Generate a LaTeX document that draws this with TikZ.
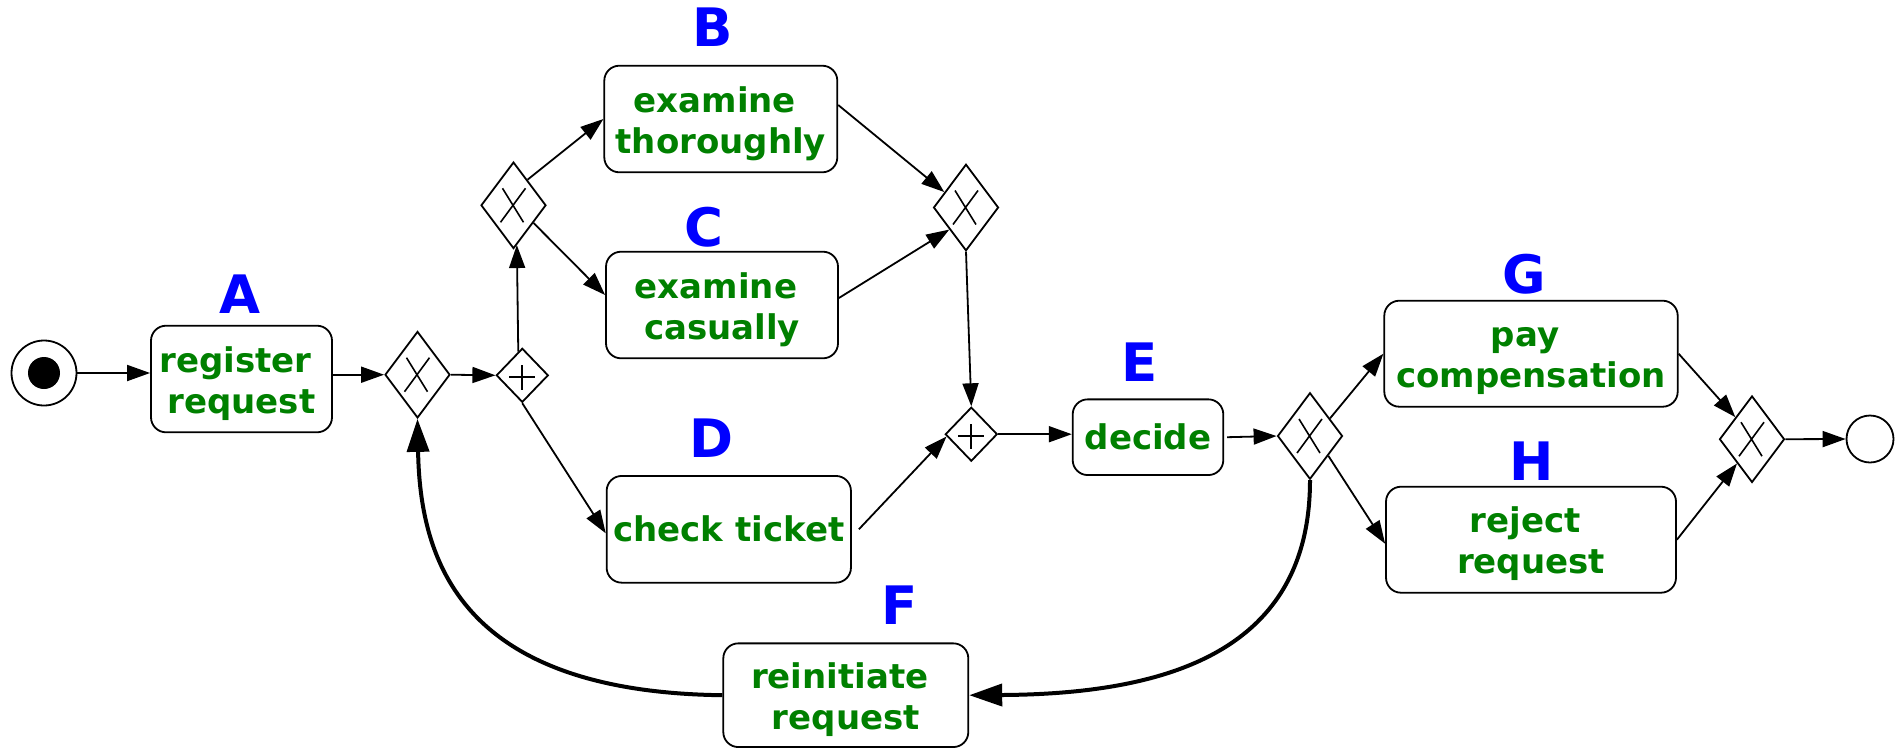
\documentclass[tikz,border=0pt]{standalone}
\usepackage{fontspec}
\setmainfont{DejaVu Sans}
\usetikzlibrary{shapes.geometric,arrows.meta,calc}
\definecolor{taskgreen}{HTML}{008000}
\definecolor{labelblue}{HTML}{0000FF}
% two centred lines whose baseline is the first line's baseline
\newcommand\twoline[2]{\vtop{\halign{\hfil##\hfil\cr#1\cr#2\cr}}}

\begin{document}
\begin{tikzpicture}[x=1pt,y=-1pt,
  task/.style={draw, line width=1.8pt, rounded corners=15pt, inner sep=0pt,
    font=\bfseries\fontsize{34}{41}\selectfont, text=taskgreen},
  twolines/.style={text height=20pt, text depth=34pt},
  letter/.style={anchor=base, inner sep=0pt,
    font=\bfseries\fontsize{53}{60}\selectfont, text=labelblue},
  xgate/.style={diamond, draw, line width=1.8pt, minimum width=65pt,
    minimum height=86.5pt, inner sep=0pt,
    path picture={\draw[line width=1.6pt]
      ($(path picture bounding box.center)+(-11,-17)$) -- ++(21,34)
      ($(path picture bounding box.center)+(-13,17)$) -- ++(25,-34);}},
  pgate/.style={diamond, draw, line width=1.8pt, minimum width=52pt,
    minimum height=54pt, inner sep=0pt,
    path picture={\draw[line width=1.8pt]
      ($(path picture bounding box.center)+(-13,2)$) -- ++(26,0)
      ($(path picture bounding box.center)+(0,-10)$) -- ++(0,25);}},
  startev/.style={circle, draw, line width=1.8pt, minimum size=65pt, inner sep=0pt,
    path picture={\fill (path picture bounding box.center) circle[radius=16pt];}},
  endev/.style={circle, draw, line width=1.8pt, minimum size=47pt, inner sep=0pt},
  flow/.style={line width=1.8pt, -{Triangle[length=23pt,width=16pt]}},
  backflow/.style={line width=4pt, -{Triangle[length=33pt,width=22pt]}},
]
\useasboundingbox (0,0) rectangle (1895,748);

% events and gateways
\node[startev] (S) at (44,373) {};
\node[xgate] (X1) at (417.5,374.7) {};
\node[pgate] (P1) at (522.3,375.3) {};
\node[xgate] (X2) at (513.5,205.3) {};
\node[xgate] (X3) at (966,207.5) {};
\node[pgate] (P2) at (971.3,434.2) {};
\node[xgate] (X4) at (1310,436) {};
\node[xgate] (X5) at (1752,439.2) {};
\node[endev] (End) at (1870,439) {};

% activities
\node[task, twolines, minimum width=181pt, minimum height=106.6pt] (A) at (241.5,379)
  {\twoline{register\kern.35em}{request}};
\node[task, twolines, minimum width=233pt, minimum height=106.6pt] (B) at (720.8,119)
  {\twoline{examine\kern.35em}{thoroughly}};
\node[task, twolines, minimum width=232pt, minimum height=106.6pt] (C) at (722,305)
  {\twoline{examine\kern.35em}{casually}};
\node[task, minimum width=244.3pt, minimum height=106.7pt] (D) at (728.8,529.3)
  {check ticket};
\node[task, minimum width=150.6pt, minimum height=75.7pt] (E) at (1148,437.2)
  {decide};
\node[task, twolines, minimum width=245pt, minimum height=103.7pt] (F) at (845.8,695.2)
  {\twoline{reinitiate\kern.35em}{request}};
\node[task, twolines, minimum width=293.4pt, minimum height=106pt] (G) at (1531,353.7)
  {\twoline{pay\kern.35em}{compensation}};
\node[task, twolines, minimum width=290pt, minimum height=106pt] (H) at (1531,539.7)
  {\twoline{reject\kern.35em}{request}};

% activity letters
\node[letter] (LA) at (240,313) {A};
\node[letter] (LB) at (712.5,46.7) {B};
\node[letter] (LC) at (704,246) {C};
\node[letter] (LD) at (711,457.3) {D};
\node[letter] (LE) at (1140,381) {E};
\node[letter] (LF) at (900,624) {F};
\node[letter] (LG) at (1524,293) {G};
\node[letter] (LH) at (1531.7,480) {H};

% sequence flows
\draw[flow] (S.east) -- (S.east -| A.west);
\draw[flow] (A.east |- X1.west) -- (X1.west);
\draw[flow] (X1.east) -- (P1.west);
\draw[flow] ($(P1.north)!0.15!(P1.west)$) -- ($(X2.south)!0.1!(X2.east)$);
\draw[flow] ($(X2.north)!0.42!(X2.east)$) -- (B.west);
\draw[flow] ($(X2.east)!0.4!(X2.south)$) -- ([yshift=10pt]C.west);
\draw[flow] (P1.south) -- ([yshift=-4pt]D.west);
\draw[flow] ([yshift=14pt]B.east) -- ($(X3.west)!0.35!(X3.north)$);
\draw[flow] ([yshift=7pt]C.east) -- ($(X3.west)!0.5!(X3.south)$);
\draw[flow] (X3.south) -- (P2.north);
\draw[flow] ([xshift=7pt]D.east) -- ($(P2.west)!0.08!(P2.south)$);
\draw[flow] (P2.east) -- (P2.east -| E.west);
\draw[flow] ([xshift=3pt]E.east) -- (X4.west);
\draw[flow] ($(X4.north)!0.6!(X4.east)$) -- (G.west);
\draw[flow] ($(X4.east)!0.45!(X4.south)$) -- ([yshift=-4pt]H.west);
\draw[flow] (G.east) -- ($(X5.west)!0.5!(X5.north)$);
\draw[flow] (H.east) -- ($(X5.west)!0.55!(X5.south)$);
\draw[flow] (X5.east) -- (End.west);

% rework loop
\draw[backflow] (X4.south) .. controls (1310,650) and (1170,694) .. (F.east);
\draw[backflow] (F.west) .. controls (460,692) and (420,560) .. (X1.south);
\end{tikzpicture}
\end{document}
